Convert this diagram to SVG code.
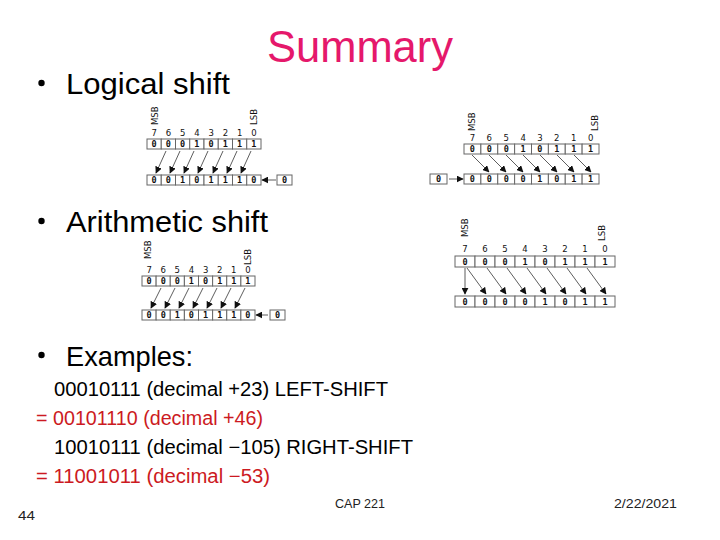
<svg xmlns="http://www.w3.org/2000/svg" width="720" height="540" viewBox="0 0 720 540">
<defs>
<style>
.h{font-family:"Liberation Sans",Arial,sans-serif;fill:#000}
.ex{font-family:"Liberation Sans",Arial,sans-serif;font-size:20px;fill:#000}
.red{fill:#CC1A22}
.ft{font-family:"Liberation Sans",Arial,sans-serif;font-size:13px;fill:#222}
.c{fill:#fff;stroke:#666;stroke-width:1}
.d{font-family:"DejaVu Sans Mono","Liberation Mono",monospace;font-size:8.5px;font-weight:bold;fill:#111;text-anchor:middle}
.n{font-family:"DejaVu Sans","Liberation Sans",sans-serif;font-size:8.5px;fill:#111;text-anchor:middle}
.lb{font-family:"DejaVu Sans","Liberation Sans",sans-serif;font-size:8.5px;fill:#111}
.a{stroke:#333;stroke-width:0.8;fill:none;marker-end:url(#ah)}
</style>
<marker id="ah" viewBox="0 0 10 10" refX="9" refY="5" markerWidth="7" markerHeight="7" orient="auto" markerUnits="userSpaceOnUse">
<path d="M0,0 L10,5 L0,10 z" fill="#111"/>
</marker>
</defs>
<rect width="720" height="540" fill="#fff"/>

<g id="title"><text class="h" x="267" y="62" font-size="44" style="fill:#E5186B" textLength="186" lengthAdjust="spacingAndGlyphs">Summary</text></g>

<g id="bullet-logical">
<circle cx="41.5" cy="83" r="3.2" fill="#000"/>
<text class="h" x="66" y="94" font-size="29" textLength="164" lengthAdjust="spacingAndGlyphs">Logical shift</text>
</g>
<g id="bullet-arith">
<circle cx="41.5" cy="221" r="3.2" fill="#000"/>
<text class="h" x="66" y="232" font-size="29" textLength="202" lengthAdjust="spacingAndGlyphs">Arithmetic shift</text>
</g>
<g id="bullet-examples">
<circle cx="41.5" cy="355" r="3.2" fill="#000"/>
<text class="h" x="66" y="366" font-size="28" textLength="127" lengthAdjust="spacingAndGlyphs">Examples:</text>
</g>

<g id="examples">
<text class="ex" x="54" y="396" textLength="334" lengthAdjust="spacingAndGlyphs">00010111 (decimal +23) LEFT-SHIFT</text>
<text class="ex red" x="36" y="425" textLength="227" lengthAdjust="spacingAndGlyphs">= 00101110 (decimal +46)</text>
<text class="ex" x="54" y="454" textLength="359" lengthAdjust="spacingAndGlyphs">10010111 (decimal −105) RIGHT-SHIFT</text>
<text class="ex red" x="36" y="483" textLength="234" lengthAdjust="spacingAndGlyphs">= 11001011 (decimal −53)</text>
</g>

<!-- Diagram 1: logical left shift -->
<g id="logical-left">
<text class="lb" transform="translate(158,125) rotate(-90)">MSB</text>
<text class="lb" transform="translate(257,125) rotate(-90)">LSB</text>
<g class="n"><text x="154.1" y="136">7</text><text x="168.4" y="136">6</text><text x="182.6" y="136">5</text><text x="196.9" y="136">4</text><text x="211.1" y="136">3</text><text x="225.4" y="136">2</text><text x="239.6" y="136">1</text><text x="253.9" y="136">0</text></g>
<g>
<rect class="c" x="147" y="139" width="14.25" height="10"/><rect class="c" x="161.25" y="139" width="14.25" height="10"/><rect class="c" x="175.5" y="139" width="14.25" height="10"/><rect class="c" x="189.75" y="139" width="14.25" height="10"/><rect class="c" x="204" y="139" width="14.25" height="10"/><rect class="c" x="218.25" y="139" width="14.25" height="10"/><rect class="c" x="232.5" y="139" width="14.25" height="10"/><rect class="c" x="246.75" y="139" width="14.25" height="10"/>
</g>
<g class="d"><text x="154.1" y="147">0</text><text x="168.4" y="147">0</text><text x="182.6" y="147">0</text><text x="196.9" y="147">1</text><text x="211.1" y="147">0</text><text x="225.4" y="147">1</text><text x="239.6" y="147">1</text><text x="253.9" y="147">1</text></g>
<g>
<rect class="c" x="147" y="175" width="14.25" height="10"/><rect class="c" x="161.25" y="175" width="14.25" height="10"/><rect class="c" x="175.5" y="175" width="14.25" height="10"/><rect class="c" x="189.75" y="175" width="14.25" height="10"/><rect class="c" x="204" y="175" width="14.25" height="10"/><rect class="c" x="218.25" y="175" width="14.25" height="10"/><rect class="c" x="232.5" y="175" width="14.25" height="10"/><rect class="c" x="246.75" y="175" width="14.25" height="10"/>
<rect class="c" x="277" y="175" width="15" height="10"/>
</g>
<g class="d"><text x="154.1" y="183">0</text><text x="168.4" y="183">0</text><text x="182.6" y="183">1</text><text x="196.9" y="183">0</text><text x="211.1" y="183">1</text><text x="225.4" y="183">1</text><text x="239.6" y="183">1</text><text x="253.9" y="183">0</text><text x="284.5" y="183">0</text></g>
</g>

<!-- Diagram 2: logical right shift -->
<g id="logical-right">
<text class="lb" transform="translate(475,131) rotate(-90)">MSB</text>
<text class="lb" transform="translate(598,131) rotate(-90)">LSB</text>
<g class="n"><text x="472.4" y="141">7</text><text x="489.3" y="141">6</text><text x="506.2" y="141">5</text><text x="523.1" y="141">4</text><text x="539.9" y="141">3</text><text x="556.8" y="141">2</text><text x="573.7" y="141">1</text><text x="590.6" y="141">0</text></g>
<g>
<rect class="c" x="464" y="144" width="16.875" height="10"/><rect class="c" x="480.875" y="144" width="16.875" height="10"/><rect class="c" x="497.75" y="144" width="16.875" height="10"/><rect class="c" x="514.625" y="144" width="16.875" height="10"/><rect class="c" x="531.5" y="144" width="16.875" height="10"/><rect class="c" x="548.375" y="144" width="16.875" height="10"/><rect class="c" x="565.25" y="144" width="16.875" height="10"/><rect class="c" x="582.125" y="144" width="16.875" height="10"/>
</g>
<g class="d"><text x="472.4" y="152">0</text><text x="489.3" y="152">0</text><text x="506.2" y="152">0</text><text x="523.1" y="152">1</text><text x="539.9" y="152">0</text><text x="556.8" y="152">1</text><text x="573.7" y="152">1</text><text x="590.6" y="152">1</text></g>
<g>
<rect class="c" x="464" y="174" width="16.875" height="10"/><rect class="c" x="480.875" y="174" width="16.875" height="10"/><rect class="c" x="497.75" y="174" width="16.875" height="10"/><rect class="c" x="514.625" y="174" width="16.875" height="10"/><rect class="c" x="531.5" y="174" width="16.875" height="10"/><rect class="c" x="548.375" y="174" width="16.875" height="10"/><rect class="c" x="565.25" y="174" width="16.875" height="10"/><rect class="c" x="582.125" y="174" width="16.875" height="10"/>
<rect class="c" x="430" y="174" width="17" height="10"/>
</g>
<g class="d"><text x="472.4" y="182">0</text><text x="489.3" y="182">0</text><text x="506.2" y="182">0</text><text x="523.1" y="182">0</text><text x="539.9" y="182">1</text><text x="556.8" y="182">0</text><text x="573.7" y="182">1</text><text x="590.6" y="182">1</text><text x="438.5" y="182">0</text></g>
</g>

<!-- Diagram 3: arithmetic left shift -->
<g id="arith-left">
<text class="lb" transform="translate(151,259) rotate(-90)">MSB</text>
<text class="lb" transform="translate(251,265) rotate(-90)">LSB</text>
<g class="n"><text x="149.1" y="273">7</text><text x="163.2" y="273">6</text><text x="177.3" y="273">5</text><text x="191.4" y="273">4</text><text x="205.6" y="273">3</text><text x="219.7" y="273">2</text><text x="233.8" y="273">1</text><text x="247.9" y="273">0</text></g>
<g>
<rect class="c" x="142" y="276" width="14.125" height="10"/><rect class="c" x="156.125" y="276" width="14.125" height="10"/><rect class="c" x="170.25" y="276" width="14.125" height="10"/><rect class="c" x="184.375" y="276" width="14.125" height="10"/><rect class="c" x="198.5" y="276" width="14.125" height="10"/><rect class="c" x="212.625" y="276" width="14.125" height="10"/><rect class="c" x="226.75" y="276" width="14.125" height="10"/><rect class="c" x="240.875" y="276" width="14.125" height="10"/>
</g>
<g class="d"><text x="149.1" y="284">0</text><text x="163.2" y="284">0</text><text x="177.3" y="284">0</text><text x="191.4" y="284">1</text><text x="205.6" y="284">0</text><text x="219.7" y="284">1</text><text x="233.8" y="284">1</text><text x="247.9" y="284">1</text></g>
<g>
<rect class="c" x="142" y="310" width="14.125" height="10"/><rect class="c" x="156.125" y="310" width="14.125" height="10"/><rect class="c" x="170.25" y="310" width="14.125" height="10"/><rect class="c" x="184.375" y="310" width="14.125" height="10"/><rect class="c" x="198.5" y="310" width="14.125" height="10"/><rect class="c" x="212.625" y="310" width="14.125" height="10"/><rect class="c" x="226.75" y="310" width="14.125" height="10"/><rect class="c" x="240.875" y="310" width="14.125" height="10"/>
<rect class="c" x="270" y="310" width="15" height="10"/>
</g>
<g class="d"><text x="149.1" y="318">0</text><text x="163.2" y="318">0</text><text x="177.3" y="318">1</text><text x="191.4" y="318">0</text><text x="205.6" y="318">1</text><text x="219.7" y="318">1</text><text x="233.8" y="318">1</text><text x="247.9" y="318">0</text><text x="277.5" y="318">0</text></g>
</g>

<!-- Diagram 4: arithmetic right shift -->
<g id="arith-right">
<text class="lb" transform="translate(468,237) rotate(-90)">MSB</text>
<text class="lb" transform="translate(605,241) rotate(-90)">LSB</text>
<g class="n"><text x="465" y="252">7</text><text x="485" y="252">6</text><text x="505" y="252">5</text><text x="525" y="252">4</text><text x="545" y="252">3</text><text x="565" y="252">2</text><text x="585" y="252">1</text><text x="605" y="252">0</text></g>
<g>
<rect class="c" x="455" y="256" width="20" height="11"/><rect class="c" x="475" y="256" width="20" height="11"/><rect class="c" x="495" y="256" width="20" height="11"/><rect class="c" x="515" y="256" width="20" height="11"/><rect class="c" x="535" y="256" width="20" height="11"/><rect class="c" x="555" y="256" width="20" height="11"/><rect class="c" x="575" y="256" width="20" height="11"/><rect class="c" x="595" y="256" width="20" height="11"/>
</g>
<g class="d"><text x="465" y="265">0</text><text x="485" y="265">0</text><text x="505" y="265">0</text><text x="525" y="265">1</text><text x="545" y="265">0</text><text x="565" y="265">1</text><text x="585" y="265">1</text><text x="605" y="265">1</text></g>
<g>
<rect class="c" x="455" y="296" width="20" height="11"/><rect class="c" x="475" y="296" width="20" height="11"/><rect class="c" x="495" y="296" width="20" height="11"/><rect class="c" x="515" y="296" width="20" height="11"/><rect class="c" x="535" y="296" width="20" height="11"/><rect class="c" x="555" y="296" width="20" height="11"/><rect class="c" x="575" y="296" width="20" height="11"/><rect class="c" x="595" y="296" width="20" height="11"/>
</g>
<g class="d"><text x="465" y="305">0</text><text x="485" y="305">0</text><text x="505" y="305">0</text><text x="525" y="305">0</text><text x="545" y="305">1</text><text x="565" y="305">0</text><text x="585" y="305">1</text><text x="605" y="305">1</text></g>
</g>

<g id="connectors">
<!-- D1 -->
<line class="a" x1="166" y1="151" x2="156" y2="173"/>
<line class="a" x1="180" y1="151" x2="170" y2="173"/>
<line class="a" x1="194" y1="151" x2="184" y2="173"/>
<line class="a" x1="208" y1="151" x2="198" y2="173"/>
<line class="a" x1="223" y1="151" x2="213" y2="173"/>
<line class="a" x1="237" y1="151" x2="227" y2="173"/>
<line class="a" x1="251" y1="151" x2="241" y2="173"/>
<line class="a" x1="276" y1="180" x2="262" y2="180"/>
<!-- D2 -->
<line class="a" x1="472" y1="155" x2="489" y2="172"/>
<line class="a" x1="489" y1="155" x2="506" y2="172"/>
<line class="a" x1="506" y1="155" x2="523" y2="172"/>
<line class="a" x1="523" y1="155" x2="540" y2="172"/>
<line class="a" x1="540" y1="155" x2="557" y2="172"/>
<line class="a" x1="557" y1="155" x2="574" y2="172"/>
<line class="a" x1="574" y1="155" x2="591" y2="172"/>
<line class="a" x1="449" y1="179" x2="463" y2="179"/>
<!-- D3 -->
<line class="a" x1="161" y1="288" x2="151" y2="308"/>
<line class="a" x1="175" y1="288" x2="165" y2="308"/>
<line class="a" x1="189" y1="288" x2="179" y2="308"/>
<line class="a" x1="203" y1="288" x2="193" y2="308"/>
<line class="a" x1="217" y1="288" x2="207" y2="308"/>
<line class="a" x1="231" y1="288" x2="221" y2="308"/>
<line class="a" x1="245" y1="288" x2="235" y2="308"/>
<line class="a" x1="268" y1="315" x2="256" y2="315"/>
<!-- D4 -->
<line class="a" x1="465" y1="268" x2="465" y2="294"/>
<line class="a" x1="467" y1="268" x2="486" y2="294"/>
<line class="a" x1="487" y1="268" x2="506" y2="294"/>
<line class="a" x1="507" y1="268" x2="526" y2="294"/>
<line class="a" x1="527" y1="268" x2="546" y2="294"/>
<line class="a" x1="547" y1="268" x2="566" y2="294"/>
<line class="a" x1="567" y1="268" x2="586" y2="294"/>
<line class="a" x1="587" y1="268" x2="606" y2="294"/>
</g>

<g id="footer">
<text class="ft" x="18" y="520" textLength="17" lengthAdjust="spacingAndGlyphs">44</text>
<text class="ft" x="335" y="508" textLength="50" lengthAdjust="spacingAndGlyphs">CAP 221</text>
<text class="ft" x="614" y="508" textLength="63" lengthAdjust="spacingAndGlyphs">2/22/2021</text>
</g>
</svg>
